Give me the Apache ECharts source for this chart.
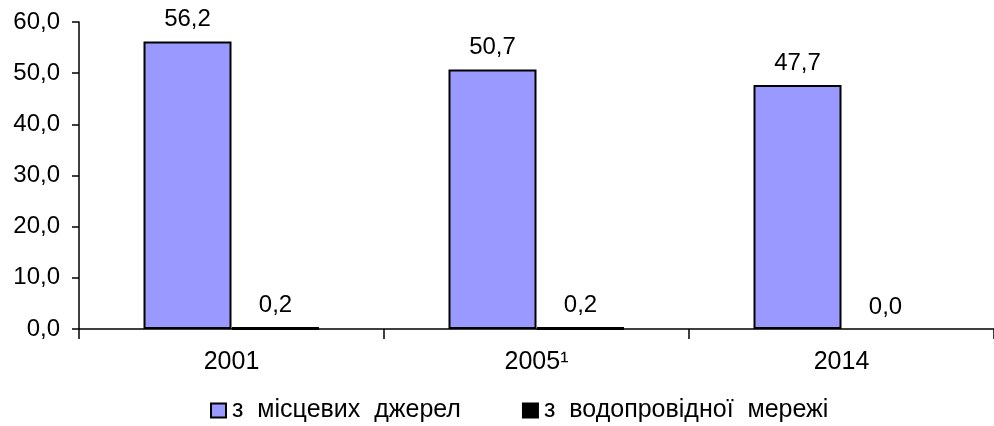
<!DOCTYPE html>
<html>
<head>
<meta charset="utf-8">
<script src="https://cdn.jsdelivr.net/npm/echarts@6/dist/echarts.min.js"></script>
<style>
  html, body { margin: 0; padding: 0; background: #fff; }
  #chart { width: 994px; height: 426px; }
</style>
</head>
<body>
<div id="chart"></div>
<script>
// дані
const years = ['2001', '2005¹', '2014']
const seriesNames = ['з  місцевих  джерел', 'з  водопровідної  мережі']
const localSources = [56.2, 50.7, 47.7]
const waterSupply = [0.2, 0.2, 0.0]
const yTicks = { min: 0, max: 60, step: 10 }

const font = 'Liberation Sans, Arial, sans-serif'
const fmt = v => v.toFixed(1).replace('.', ',')

const chart = echarts.init(document.getElementById('chart'), null, { renderer: 'canvas' })

const labelStyle = {
  show: true,
  position: 'top',
  distance: 10,
  fontFamily: font,
  fontSize: 24,
  color: '#000',
  formatter: p => fmt(p.value)
}

chart.setOption({
  animation: false,
  textStyle: { fontFamily: font },
  grid: { left: 79, right: -6, top: 22, bottom: 97 },
  legend: {
    top: 398,
    left: 210,
    padding: 0,
    itemWidth: 15,
    itemHeight: 14,
    itemGap: 61,
    textStyle: { fontFamily: font, fontSize: 25, color: '#000', padding: [0, 0, 0, 1] },
    data: seriesNames.map(n => ({ name: n, icon: 'rect' }))
  },
  xAxis: {
    type: 'category',
    data: years,
    axisLine: { lineStyle: { color: '#000', width: 1.5 } },
    axisTick: { show: true, length: 10, lineStyle: { color: '#000', width: 1.5 } },
    axisLabel: { color: '#000', fontSize: 25, fontFamily: font, margin: 21 }
  },
  yAxis: {
    type: 'value',
    min: yTicks.min,
    max: yTicks.max,
    interval: yTicks.step,
    axisLine: { show: true, lineStyle: { color: '#000', width: 1.5 } },
    axisTick: { show: true, inside: false, length: 7, lineStyle: { color: '#000', width: 1.5 } },
    splitLine: { show: false },
    axisLabel: { color: '#000', fontSize: 24, fontFamily: font, margin: 19, formatter: v => fmt(v) }
  },
  series: [
    {
      name: seriesNames[0],
      type: 'bar',
      data: localSources,
      barWidth: 88,
      barGap: '0%',
      itemStyle: { color: '#9999FF', borderColor: '#000', borderWidth: 2 },
      label: labelStyle
    },
    {
      name: seriesNames[1],
      type: 'bar',
      // нульове значення без рамки, щоб не малювати лінію
      data: waterSupply.map(v => ({ value: v, itemStyle: { borderWidth: v === 0 ? 0 : 3 } })),
      barWidth: 88,
      itemStyle: { color: '#000', borderColor: '#000', borderWidth: 3 },
      label: labelStyle
    }
  ]
})
</script>
</body>
</html>
